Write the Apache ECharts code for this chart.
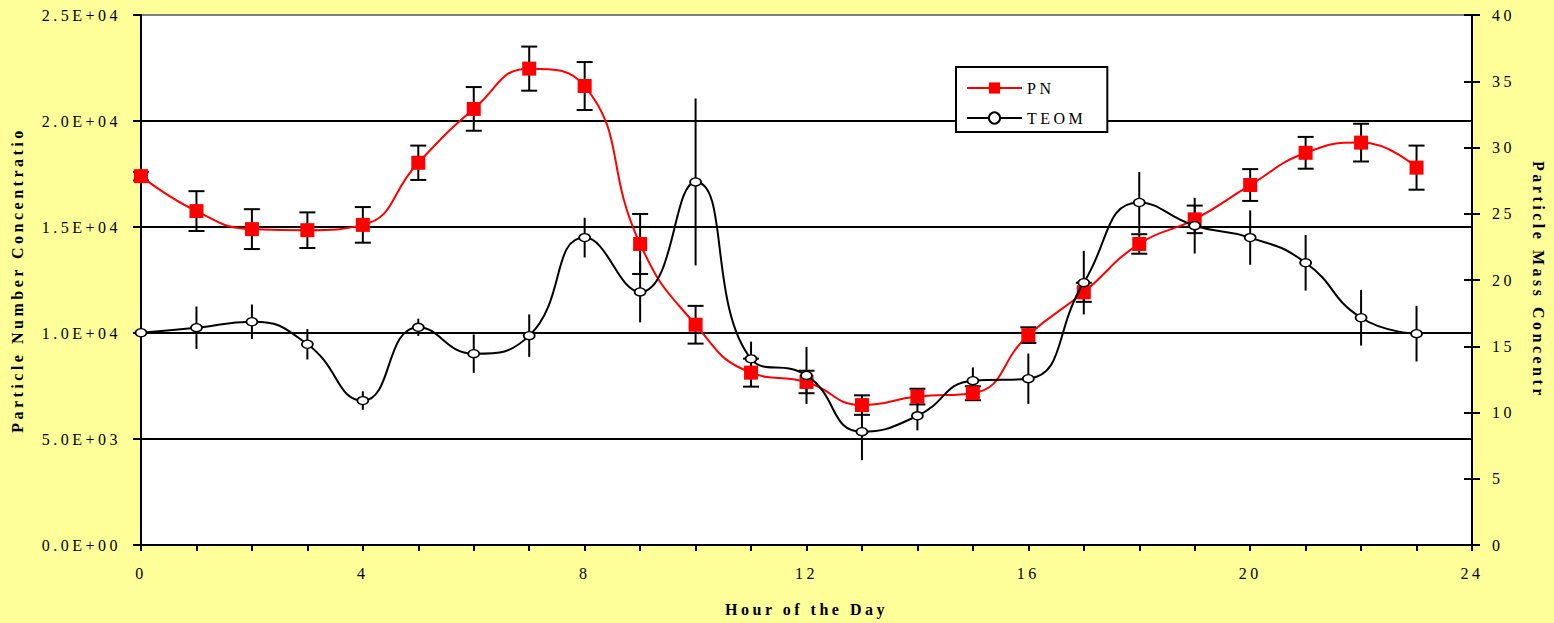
<!DOCTYPE html>
<html>
<head>
<meta charset="utf-8">
<script src="https://cdn.jsdelivr.net/npm/echarts@6/dist/echarts.min.js"></script>
<style>
  html, body { margin: 0; padding: 0; background: #FFFF99; }
  #main { width: 1554px; height: 623px; letter-spacing: 3.5px; }
</style>
</head>
<body>
<div id="main"></div>
<script>
// hour of the day
var hours = [0, 1, 2, 3, 4, 5, 6, 7, 8, 9, 10, 11, 12, 13, 14, 15, 16, 17, 18, 19, 20, 21, 22, 23];
// particle number (left axis) and its error
var pn = [17400, 15750, 14900, 14850, 15100, 18030, 20570, 22470, 21650, 14200, 10390, 8130,
          7690, 6600, 7000, 7160, 9900, 11920, 14200, 15360, 16980, 18500, 18980, 17800];
var pnErr = [200, 940, 940, 840, 840, 810, 1030, 1040, 1130, 1415, 890, 660,
             530, 460, 370, 330, 370, 450, 460, 650, 750, 750, 890, 1040];
// TEOM mass (right axis) and its error
var teom = [16.02, 16.4, 16.85, 15.15, 10.9, 16.43, 14.44, 15.8, 23.2, 19.1, 27.4, 14.05,
            12.8, 8.55, 9.75, 12.4, 12.55, 19.8, 25.85, 24.1, 23.2, 21.3, 17.15, 15.95];
var teomErr = [0.3, 1.6, 1.3, 1.15, 0.7, 0.65, 1.45, 1.6, 1.5, 2.3, 6.3, 1.3,
               2.15, 2.15, 1.1, 1.0, 1.9, 2.4, 2.3, 2.1, 2.05, 2.1, 2.1, 2.1];

var FONT = 'Liberation Serif';

function sci(v) {
  var e = v === 0 ? 0 : Math.floor(Math.log10(v));
  var m = v === 0 ? 0 : v / Math.pow(10, e);
  return m.toFixed(1) + 'E+' + (e < 10 ? '0' : '') + e;
}

function errRender(cap) {
  return function (params, api) {
    var x = api.value(0), y = api.value(1), e = api.value(2);
    var top = api.coord([x, y + e]);
    var bot = api.coord([x, y - e]);
    var st = { stroke: '#000', lineWidth: 2 };
    var kids = [{ type: 'line', shape: { x1: top[0], y1: top[1], x2: bot[0], y2: bot[1] }, style: st }];
    if (cap) {
      kids.push({ type: 'line', shape: { x1: top[0] - 8, y1: top[1], x2: top[0] + 8, y2: top[1] }, style: st });
      kids.push({ type: 'line', shape: { x1: bot[0] - 8, y1: bot[1], x2: bot[0] + 8, y2: bot[1] }, style: st });
    }
    return { type: 'group', children: kids };
  };
}

var chart = echarts.init(document.getElementById('main'), null, { renderer: 'svg' });

chart.setOption({
  backgroundColor: '#FFFF99',
  animation: false,
  textStyle: { fontFamily: FONT, color: '#000' },
  grid: {
    left: 141, right: 82, top: 15, bottom: 78,
    show: true, backgroundColor: '#fff', borderColor: '#808080', borderWidth: 2
  },
  legend: {
    left: 956, top: 67, orient: 'vertical',
    backgroundColor: '#fff', borderColor: '#000', borderWidth: 2, borderRadius: 0,
    padding: [13, 35, 6, 10], itemGap: 14, itemWidth: 55, itemHeight: 14,
    textStyle: { fontFamily: FONT, fontSize: 16, color: '#000' },
    data: ['PN', 'TEOM']
  },
  xAxis: {
    type: 'value', min: 0, max: 24, interval: 4,
    name: 'Hour of the Day', nameLocation: 'middle', nameGap: 56,
    nameTextStyle: { fontFamily: FONT, fontWeight: 'bold', fontSize: 16, color: '#000' },
    axisLine: { lineStyle: { color: '#000', width: 2 } },
    axisTick: { length: 6, lineStyle: { color: '#000', width: 2 } },
    minorTick: { show: true, splitNumber: 4, length: 6, lineStyle: { color: '#000', width: 2 } },
    axisLabel: { fontFamily: FONT, fontSize: 16, color: '#000', margin: 20 },
    splitLine: { show: false }
  },
  yAxis: [{
    type: 'value', min: 0, max: 25000, interval: 5000, position: 'left',
    name: 'Particle Number Concentratio', nameLocation: 'middle', nameGap: 116, nameRotate: 90,
    nameTextStyle: { fontFamily: FONT, fontWeight: 'bold', fontSize: 16, color: '#000' },
    axisLine: { show: true, lineStyle: { color: '#000', width: 2 } },
    axisTick: { show: true, length: 8, lineStyle: { color: '#000', width: 2 } },
    axisLabel: { fontFamily: FONT, fontSize: 16, color: '#000', margin: 20, formatter: sci },
    splitLine: { show: true, showMinLine: false, showMaxLine: false, lineStyle: { color: '#000', width: 2 } }
  }, {
    type: 'value', min: 0, max: 40, interval: 5, position: 'right',
    name: 'Particle Mass Concentr', nameLocation: 'middle', nameGap: 58, nameRotate: -90,
    nameTextStyle: { fontFamily: FONT, fontWeight: 'bold', fontSize: 16, color: '#000' },
    axisLine: { show: true, lineStyle: { color: '#000', width: 2 } },
    axisTick: { show: true, length: 8, lineStyle: { color: '#000', width: 2 } },
    axisLabel: { fontFamily: FONT, fontSize: 16, color: '#000', margin: 20 },
    splitLine: { show: false }
  }, {
    // inner half of the crossing ticks on the right axis
    type: 'value', min: 0, max: 40, interval: 5, position: 'right',
    axisLine: { show: false },
    axisTick: { show: true, inside: true, length: 8, lineStyle: { color: '#000', width: 2 } },
    axisLabel: { show: false },
    splitLine: { show: false }
  }],
  series: [{
    type: 'custom', name: 'pnErr', yAxisIndex: 0, z: 1,
    renderItem: errRender(true),
    encode: { x: 0, y: 1 },
    data: hours.map(function (h, i) { return [h, pn[i], pnErr[i]]; })
  }, {
    type: 'custom', name: 'teomErr', yAxisIndex: 1, z: 1,
    renderItem: errRender(false),
    encode: { x: 0, y: 1 },
    data: hours.map(function (h, i) { return [h, teom[i], teomErr[i]]; })
  }, {
    type: 'line', name: 'PN', yAxisIndex: 0, z: 3,
    smooth: 0.5,
    symbol: 'rect', symbolSize: 14,
    lineStyle: { color: '#FF0000', width: 2 },
    itemStyle: { color: '#FF0000' },
    data: hours.map(function (h, i) { return [h, pn[i]]; })
  }, {
    type: 'line', name: 'TEOM', yAxisIndex: 1, z: 4,
    smooth: 0.5,
    symbol: 'circle', symbolSize: [11, 8], showAllSymbol: true,
    lineStyle: { color: '#000', width: 2 },
    itemStyle: { color: '#fff', borderColor: '#000', borderWidth: 1.5 },
    data: hours.map(function (h, i) { return [h, teom[i]]; })
  }]
});
</script>
</body>
</html>
